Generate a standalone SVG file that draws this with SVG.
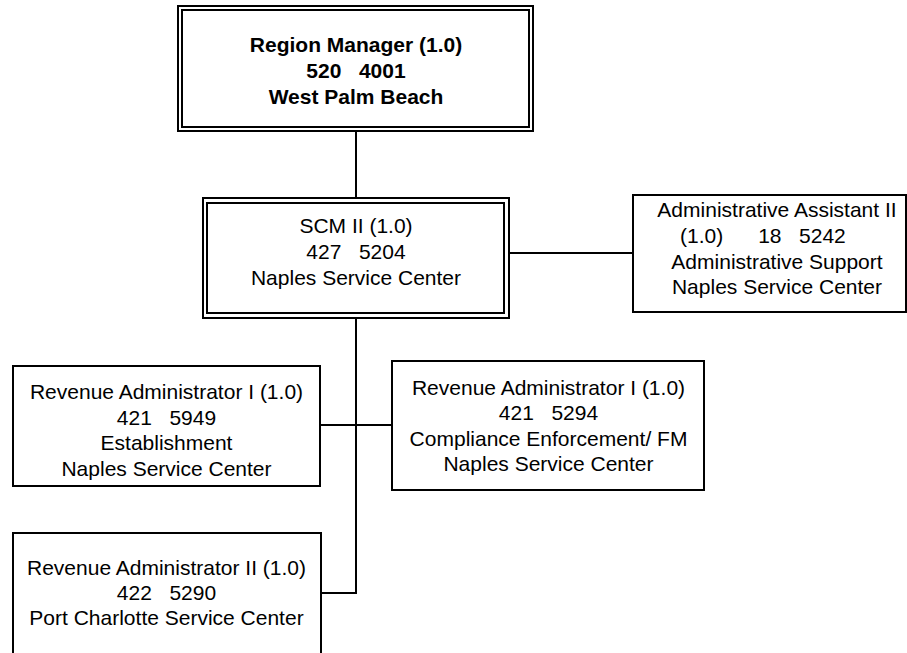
<svg xmlns="http://www.w3.org/2000/svg" width="907" height="653" viewBox="0 0 907 653">
  <style>
    .box { fill: #ffffff; stroke: #000000; stroke-width: 2; }
    .wire { fill: none; stroke: #000000; stroke-width: 2; }
    text { font-family: "Liberation Sans", Arial, sans-serif; font-size: 21px; fill: #000000; text-anchor: middle; white-space: pre; }
    .bold { font-weight: bold; }
    .left { text-anchor: start; }
  </style>
  <rect x="0" y="0" width="907" height="653" fill="#ffffff"/>

  <g id="connectors">
    <path class="wire" d="M356,131 V198"/>
    <path class="wire" d="M509,253 H633"/>
    <path class="wire" d="M356,318 V593 H321"/>
    <path class="wire" d="M320,425 H392"/>
  </g>

  <g id="region-manager">
    <rect class="box" x="178" y="6" width="355" height="125"/>
    <rect class="box" x="182" y="10" width="347" height="117"/>
    <text class="bold" x="356" y="52">Region Manager (1.0)</text>
    <text class="bold" x="356" y="78">520   4001</text>
    <text class="bold" x="356" y="104">West Palm Beach</text>
  </g>

  <g id="scm-ii">
    <rect class="box" x="203" y="198" width="306" height="120"/>
    <rect class="box" x="207" y="203" width="297" height="110"/>
    <text x="356" y="232.5">SCM II (1.0)</text>
    <text x="356" y="259">427   5204</text>
    <text x="356" y="285">Naples Service Center</text>
  </g>

  <g id="admin-assistant">
    <rect class="box" x="633" y="195" width="273" height="117"/>
    <text x="777" y="217">Administrative Assistant II</text>
    <text class="left" x="680" y="243">(1.0)      18   5242</text>
    <text x="777" y="268.5">Administrative Support</text>
    <text x="777" y="294">Naples Service Center</text>
  </g>

  <g id="rev-admin-establishment">
    <rect class="box" x="13" y="366" width="307" height="120"/>
    <text x="166.5" y="399">Revenue Administrator I (1.0)</text>
    <text x="166.5" y="424.5">421   5949</text>
    <text x="166.5" y="450">Establishment</text>
    <text x="166.5" y="475.5">Naples Service Center</text>
  </g>

  <g id="rev-admin-compliance">
    <rect class="box" x="392" y="361" width="312" height="129"/>
    <text x="548.5" y="394.5">Revenue Administrator I (1.0)</text>
    <text x="548.5" y="420">421   5294</text>
    <text x="548.5" y="445.5">Compliance Enforcement/ FM</text>
    <text x="548.5" y="471">Naples Service Center</text>
  </g>

  <g id="rev-admin-port-charlotte">
    <rect class="box" x="13" y="533" width="308" height="140"/>
    <text x="166.5" y="575">Revenue Administrator II (1.0)</text>
    <text x="166.5" y="600">422   5290</text>
    <text x="166.5" y="625">Port Charlotte Service Center</text>
  </g>
</svg>
